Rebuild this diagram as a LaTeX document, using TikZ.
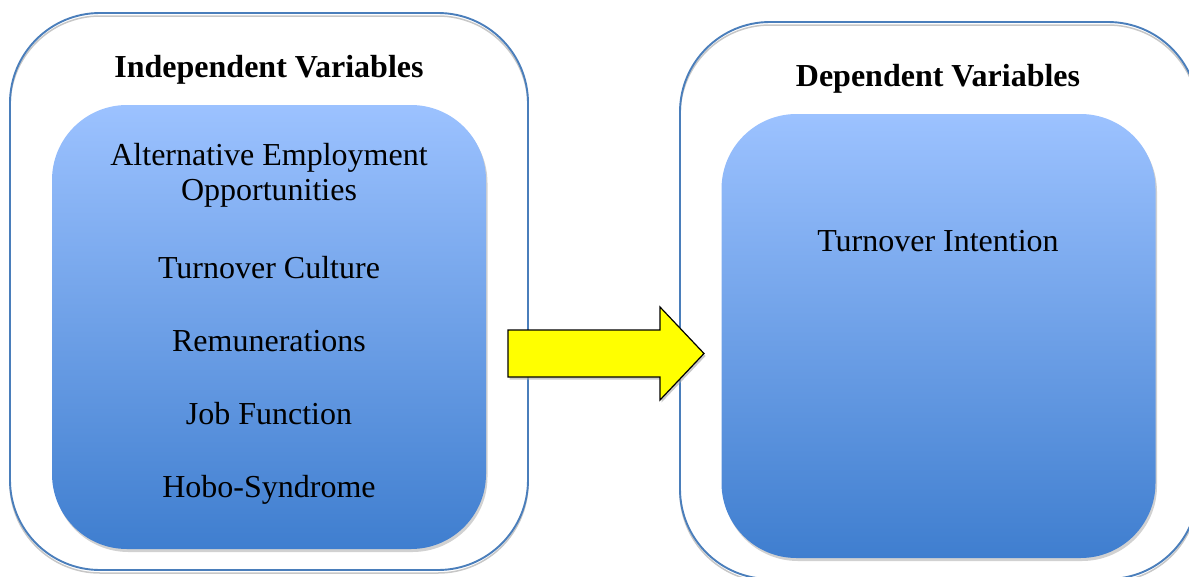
\documentclass[tikz,border=0pt]{standalone}
\usepackage{fontspec}
\setmainfont{Liberation Serif}
\usetikzlibrary{shadows}

\definecolor{frameblue}{HTML}{4A7EBB}
\definecolor{listtop}{HTML}{9CC2FF}
\definecolor{listbottom}{HTML}{3F7ECF}
\definecolor{arrowyellow}{HTML}{FFFF00}

\tikzset{
  groupframe/.style={draw=frameblue,line width=1.9pt,rounded corners=90pt,
    minimum width=518pt,minimum height=557pt,inner sep=0pt,
    preaction={draw=black!22,line width=1.5pt,transform canvas={yshift=-3pt}}},
  listbox/.style={rounded corners=75pt,top color=listtop,bottom color=listbottom,
    minimum width=434pt,minimum height=444pt,inner sep=0pt,
    drop shadow={shadow xshift=1.5pt,shadow yshift=-3pt,fill=black!30,opacity=0.6}},
  vartitle/.style={font=\fontsize{32}{36}\selectfont\bfseries},
  varitem/.style={font=\fontsize{32}{36}\selectfont}
}

\begin{document}
\begin{tikzpicture}[x=1pt,y=-1pt]
\useasboundingbox (0,0) rectangle (1189,576);
\clip (0,0) rectangle (1189,576);

% independent side
\node[groupframe] (indep) at (269,291.5) {};
\node[listbox] (indepList) at (269,327) {};
\node[vartitle] (indepTitle) at (269,70) {Independent Variables};
\foreach \n/\y/\t in {alt/158/Alternative Employment,opp/193/Opportunities,
    cult/268/Turnover Culture,pay/341/Remunerations,job/414/Job Function,
    hobo/490/Hobo-Syndrome}
  \node[varitem] (\n) at (269,\y) {\t};

% dependent side
\node[groupframe] (dep) at (939,300.5) {};
\node[listbox] (depList) at (938.5,336) {};
\node[vartitle] (depTitle) at (938,79) {Dependent Variables};
\node[varitem] (intent) at (938,241) {Turnover Intention};

% block arrow between the two groups
\draw[black,line width=1.2pt,line join=miter,fill=arrowyellow,
  drop shadow={shadow xshift=1.5pt,shadow yshift=-2.5pt,fill=black!35,opacity=0.6}]
  (508,330) -- (660,330) -- (660,307) -- (704,353.5) -- (660,400)
  -- (660,377) -- (508,377) -- cycle;
\end{tikzpicture}
\end{document}
